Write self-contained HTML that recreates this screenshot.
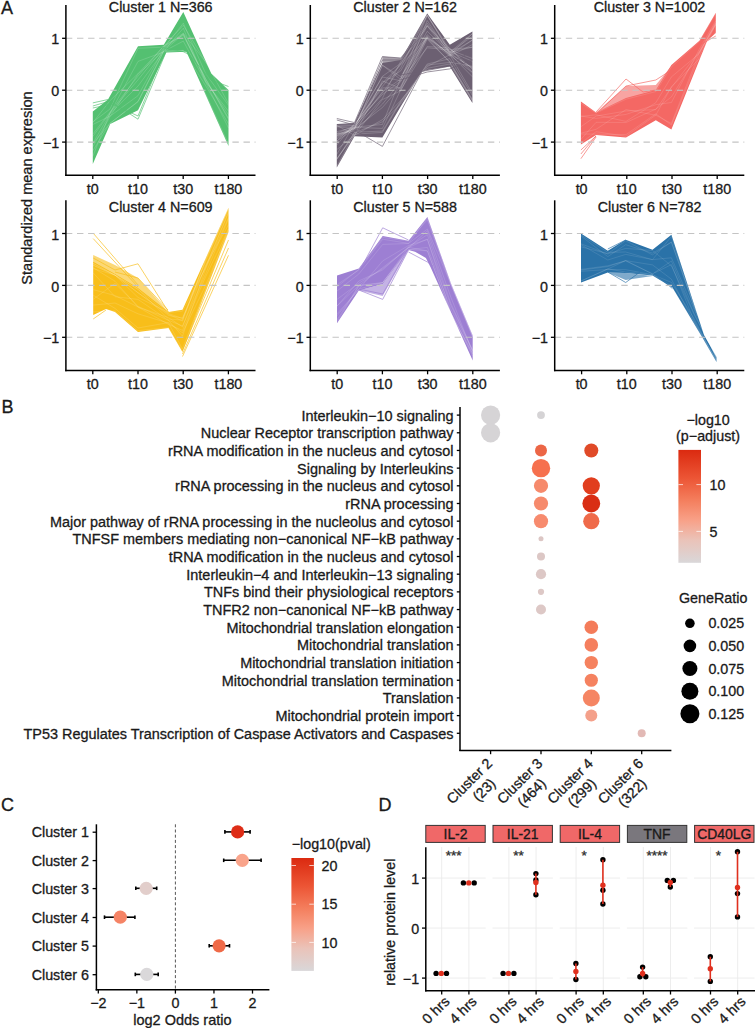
<!DOCTYPE html><html><head><meta charset="utf-8"><style>html,body{margin:0;padding:0;background:#fff;}svg{display:block;} text{font-family:"Liberation Sans", sans-serif;stroke:#1a1a1a;stroke-width:0.3px;}</style></head><body>
<svg width="755" height="1028" viewBox="0 0 755 1028">
<rect width="755" height="1028" fill="#fff"/>
<text x="1.00" y="13.70" font-size="18" text-anchor="start" fill="#1a1a1a" >A</text>
<polygon points="596.1,112.4 626.0,86.0 655.8,85.0 671.4,66.0 671.4,100.0 626.0,100.0" fill="#f46864" fill-opacity="0.6"/>
<polygon points="93.2,255.0 115.0,265.0 138.0,278.0 168.5,312.0 138.0,292.0 93.2,263.0" fill="#f8be1a" fill-opacity="0.6"/>
<polygon points="358.8,290.5 382.7,296.0 408.5,250.0 382.7,284.0" fill="#9d7fd3" fill-opacity="0.6"/>
<polygon points="607.8,272.6 625.7,280.0 652.5,276.0 625.7,273.0" fill="#2a72a8" fill-opacity="0.6"/>
<polygon points="382.4,56.6 400.7,58.0 427.2,20.0 427.2,40.0 400.7,70.0 382.4,70.0" fill="#6c6072" fill-opacity="0.6"/>
<polygon points="92.8,111.4 108.0,99.5 138.0,46.3 163.8,44.7 183.3,12.0 211.3,73.5 228.5,90.0 228.5,146.0 186.4,51.7 166.2,52.5 138.0,110.3 110.2,124.0 92.8,164.1" fill="#54c071" />
<polygon points="336.8,124.0 354.5,123.0 382.4,63.0 400.7,60.0 427.2,13.6 449.8,44.7 472.4,31.5 472.4,103.1 449.8,66.5 427.2,70.0 421.7,72.0 400.7,106.6 382.4,137.4 354.5,136.2 336.8,167.5" fill="#6c6072" />
<polygon points="580.9,101.5 596.1,112.4 626.0,98.0 655.8,90.0 671.4,65.0 699.4,40.8 715.8,12.8 715.8,33.0 707.2,40.8 671.4,129.6 655.8,120.3 626.0,137.5 596.1,134.9 580.9,144.4" fill="#f46864" />
<polygon points="93.2,261.8 115.0,274.0 138.0,288.0 168.5,312.0 182.5,309.8 228.5,207.8 228.5,232.0 182.5,352.0 168.5,328.0 138.0,332.0 115.0,312.0 106.0,309.0 93.2,315.0" fill="#f8be1a" />
<polygon points="337.0,275.5 358.8,268.6 382.7,236.0 408.5,240.8 427.4,216.9 450.8,283.0 472.7,335.6 472.7,360.5 430.6,267.2 425.9,257.9 415.0,251.7 408.5,250.0 382.7,284.0 358.8,290.5 337.0,323.3" fill="#9d7fd3" />
<polygon points="581.0,233.4 607.8,250.7 625.7,239.8 652.5,249.7 671.4,234.8 704.0,335.0 716.5,357.0 716.5,362.0 702.2,337.2 672.4,287.5 652.5,275.5 625.7,273.0 607.8,272.6 581.0,282.5" fill="#2a72a8" />
<polyline points="92.8,136.5 110.0,112.9 138.0,79.8 163.8,48.0 183.3,23.2 205.6,73.5 228.5,105.4" fill="none" stroke="#ffffff" stroke-width="0.6" stroke-linejoin="round" stroke-opacity="0.25"/>
<polyline points="92.8,134.1 110.0,112.1 138.0,76.2 163.8,45.7 183.3,35.3 205.6,78.7 228.5,119.3" fill="none" stroke="#ffffff" stroke-width="0.6" stroke-linejoin="round" stroke-opacity="0.25"/>
<polyline points="92.8,156.2 110.0,113.2 138.0,61.4 163.8,51.9 183.3,50.4 205.6,85.6 228.5,123.8" fill="none" stroke="#ffffff" stroke-width="0.6" stroke-linejoin="round" stroke-opacity="0.25"/>
<polyline points="92.8,122.7 110.0,100.7 138.0,73.6 163.8,46.4 183.3,25.2 205.6,62.0 228.5,91.7" fill="none" stroke="#ffffff" stroke-width="0.6" stroke-linejoin="round" stroke-opacity="0.25"/>
<polyline points="92.8,143.3 110.0,113.7 138.0,86.1 163.8,51.0 183.3,28.2 205.6,81.8 228.5,111.2" fill="none" stroke="#ffffff" stroke-width="0.6" stroke-linejoin="round" stroke-opacity="0.25"/>
<polyline points="92.8,121.9 110.0,109.0 138.0,48.3 163.8,47.1 183.3,33.2 205.6,62.0 228.5,103.5" fill="none" stroke="#ffffff" stroke-width="0.6" stroke-linejoin="round" stroke-opacity="0.25"/>
<polyline points="92.8,143.6 110.0,123.3 138.0,101.8 163.8,51.4 183.3,41.1 205.6,82.1 228.5,128.0" fill="none" stroke="#ffffff" stroke-width="0.6" stroke-linejoin="round" stroke-opacity="0.25"/>
<polyline points="92.8,146.8 110.0,116.6 138.0,74.1 163.8,50.8 183.3,34.2 205.6,80.8 228.5,114.7" fill="none" stroke="#ffffff" stroke-width="0.6" stroke-linejoin="round" stroke-opacity="0.25"/>
<polyline points="92.8,124.5 110.0,116.2 138.0,95.7 163.8,48.7 183.3,33.7 205.6,78.7 228.5,118.1" fill="none" stroke="#ffffff" stroke-width="0.6" stroke-linejoin="round" stroke-opacity="0.25"/>
<polyline points="92.8,150.7 110.0,123.3 138.0,101.4 163.8,50.9 183.3,50.5 205.6,93.7 228.5,144.3" fill="none" stroke="#ffffff" stroke-width="0.6" stroke-linejoin="round" stroke-opacity="0.25"/>
<polyline points="336.8,133.3 354.5,125.8 382.4,76.3 400.7,63.4 427.2,23.2 449.8,52.3 472.4,47.2" fill="none" stroke="#ffffff" stroke-width="0.6" stroke-linejoin="round" stroke-opacity="0.3"/>
<polyline points="336.8,141.2 354.5,124.2 382.4,87.9 400.7,88.0 427.2,20.5 449.8,53.8 472.4,76.8" fill="none" stroke="#ffffff" stroke-width="0.6" stroke-linejoin="round" stroke-opacity="0.3"/>
<polyline points="336.8,154.3 354.5,123.8 382.4,94.6 400.7,81.0 427.2,34.7 449.8,55.4 472.4,40.1" fill="none" stroke="#ffffff" stroke-width="0.6" stroke-linejoin="round" stroke-opacity="0.3"/>
<polyline points="336.8,136.4 354.5,128.9 382.4,82.9 400.7,64.9 427.2,38.0 449.8,56.2 472.4,44.6" fill="none" stroke="#ffffff" stroke-width="0.6" stroke-linejoin="round" stroke-opacity="0.3"/>
<polyline points="336.8,137.7 354.5,127.4 382.4,128.4 400.7,90.0 427.2,46.5 449.8,48.1 472.4,72.2" fill="none" stroke="#ffffff" stroke-width="0.6" stroke-linejoin="round" stroke-opacity="0.3"/>
<polyline points="336.8,133.9 354.5,130.9 382.4,104.2 400.7,81.5 427.2,37.5 449.8,54.0 472.4,67.5" fill="none" stroke="#ffffff" stroke-width="0.6" stroke-linejoin="round" stroke-opacity="0.3"/>
<polyline points="336.8,139.0 354.5,127.5 382.4,91.9 400.7,79.0 427.2,31.3 449.8,52.8 472.4,68.4" fill="none" stroke="#ffffff" stroke-width="0.6" stroke-linejoin="round" stroke-opacity="0.3"/>
<polyline points="336.8,125.3 354.5,124.9 382.4,86.4 400.7,64.1 427.2,25.9 449.8,55.1 472.4,33.6" fill="none" stroke="#ffffff" stroke-width="0.6" stroke-linejoin="round" stroke-opacity="0.3"/>
<polyline points="336.8,141.0 354.5,129.3 382.4,107.5 400.7,86.3 427.2,38.1 449.8,62.2 472.4,66.3" fill="none" stroke="#ffffff" stroke-width="0.6" stroke-linejoin="round" stroke-opacity="0.3"/>
<polyline points="336.8,166.2 354.5,134.2 382.4,132.4 400.7,102.4 427.2,66.6 449.8,54.7 472.4,93.3" fill="none" stroke="#ffffff" stroke-width="0.6" stroke-linejoin="round" stroke-opacity="0.3"/>
<polyline points="336.8,159.5 354.5,132.7 382.4,121.8 400.7,104.0 427.2,64.0 449.8,58.7 472.4,95.4" fill="none" stroke="#ffffff" stroke-width="0.6" stroke-linejoin="round" stroke-opacity="0.3"/>
<polyline points="336.8,126.8 354.5,128.5 382.4,65.2 400.7,79.5 427.2,15.3 449.8,52.2 472.4,33.6" fill="none" stroke="#ffffff" stroke-width="0.6" stroke-linejoin="round" stroke-opacity="0.3"/>
<polyline points="336.8,126.6 354.5,125.7 382.4,83.0 400.7,70.9 427.2,24.9 449.8,52.6 472.4,36.3" fill="none" stroke="#ffffff" stroke-width="0.6" stroke-linejoin="round" stroke-opacity="0.3"/>
<polyline points="336.8,125.3 354.5,135.4 382.4,80.9 400.7,88.5 427.2,36.1 449.8,55.0 472.4,72.6" fill="none" stroke="#ffffff" stroke-width="0.6" stroke-linejoin="round" stroke-opacity="0.3"/>
<polyline points="336.8,135.7 354.5,128.8 382.4,98.4 400.7,61.4 427.2,15.3 449.8,49.7 472.4,47.2" fill="none" stroke="#ffffff" stroke-width="0.6" stroke-linejoin="round" stroke-opacity="0.3"/>
<polyline points="336.8,149.6 354.5,135.2 382.4,99.6 400.7,90.8 427.2,39.3 449.8,62.1 472.4,99.3" fill="none" stroke="#ffffff" stroke-width="0.6" stroke-linejoin="round" stroke-opacity="0.3"/>
<polyline points="336.8,145.0 354.5,123.4 382.4,77.0 400.7,80.7 427.2,47.8 449.8,49.9 472.4,58.5" fill="none" stroke="#ffffff" stroke-width="0.6" stroke-linejoin="round" stroke-opacity="0.3"/>
<polyline points="336.8,134.2 354.5,128.6 382.4,65.2 400.7,76.6 427.2,37.2 449.8,53.7 472.4,40.0" fill="none" stroke="#ffffff" stroke-width="0.6" stroke-linejoin="round" stroke-opacity="0.3"/>
<polyline points="336.8,135.3 354.5,127.2 382.4,124.5 400.7,78.3 427.2,26.0 449.8,48.5 472.4,69.2" fill="none" stroke="#ffffff" stroke-width="0.6" stroke-linejoin="round" stroke-opacity="0.3"/>
<polyline points="336.8,158.5 354.5,135.3 382.4,119.7 400.7,100.5 427.2,68.3 449.8,64.0 472.4,101.0" fill="none" stroke="#ffffff" stroke-width="0.6" stroke-linejoin="round" stroke-opacity="0.3"/>
<polyline points="336.8,131.7 354.5,127.0 382.4,92.9 400.7,67.9 427.2,15.3 449.8,51.7 472.4,61.2" fill="none" stroke="#ffffff" stroke-width="0.6" stroke-linejoin="round" stroke-opacity="0.3"/>
<polyline points="336.8,159.3 354.5,132.2 382.4,131.1 400.7,101.2 427.2,65.1 449.8,62.4 472.4,100.2" fill="none" stroke="#ffffff" stroke-width="0.6" stroke-linejoin="round" stroke-opacity="0.3"/>
<polyline points="580.9,103.1 596.1,113.1 626.0,99.2 655.8,91.6 671.4,66.9 699.4,41.4 715.8,13.4" fill="none" stroke="#ffffff" stroke-width="0.6" stroke-linejoin="round" stroke-opacity="0.2"/>
<polyline points="580.9,134.0 596.1,134.1 626.0,134.6 655.8,113.8 671.4,125.0 699.4,56.4 715.8,24.4" fill="none" stroke="#ffffff" stroke-width="0.6" stroke-linejoin="round" stroke-opacity="0.2"/>
<polyline points="580.9,126.7 596.1,116.1 626.0,111.0 655.8,109.6 671.4,87.4 699.4,51.4 715.8,22.7" fill="none" stroke="#ffffff" stroke-width="0.6" stroke-linejoin="round" stroke-opacity="0.2"/>
<polyline points="580.9,116.4 596.1,114.8 626.0,121.4 655.8,102.7 671.4,76.9 699.4,53.5 715.8,22.6" fill="none" stroke="#ffffff" stroke-width="0.6" stroke-linejoin="round" stroke-opacity="0.2"/>
<polyline points="580.9,139.4 596.1,122.3 626.0,122.5 655.8,109.1 671.4,96.9 699.4,52.0 715.8,24.2" fill="none" stroke="#ffffff" stroke-width="0.6" stroke-linejoin="round" stroke-opacity="0.2"/>
<polyline points="580.9,133.2 596.1,129.3 626.0,109.6 655.8,115.2 671.4,123.5 699.4,52.6 715.8,24.6" fill="none" stroke="#ffffff" stroke-width="0.6" stroke-linejoin="round" stroke-opacity="0.2"/>
<polyline points="580.9,143.1 596.1,131.7 626.0,136.3 655.8,115.1 671.4,86.9 699.4,58.6 715.8,31.7" fill="none" stroke="#ffffff" stroke-width="0.6" stroke-linejoin="round" stroke-opacity="0.2"/>
<polyline points="580.9,116.0 596.1,118.4 626.0,114.4 655.8,104.7 671.4,102.5 699.4,49.0 715.8,20.8" fill="none" stroke="#ffffff" stroke-width="0.6" stroke-linejoin="round" stroke-opacity="0.2"/>
<polyline points="93.2,289.6 115.0,295.5 138.0,307.0 168.5,324.4 182.5,330.4 205.5,277.0 228.5,228.9" fill="none" stroke="#ffffff" stroke-width="0.6" stroke-linejoin="round" stroke-opacity="0.22"/>
<polyline points="93.2,311.9 115.0,310.9 138.0,330.7 168.5,327.5 182.5,350.7 205.5,290.7 228.5,231.3" fill="none" stroke="#ffffff" stroke-width="0.6" stroke-linejoin="round" stroke-opacity="0.22"/>
<polyline points="93.2,299.3 115.0,283.4 138.0,306.3 168.5,320.4 182.5,336.2 205.5,269.0 228.5,217.4" fill="none" stroke="#ffffff" stroke-width="0.6" stroke-linejoin="round" stroke-opacity="0.22"/>
<polyline points="93.2,263.4 115.0,275.1 138.0,289.3 168.5,319.0 182.5,320.1 205.5,259.8 228.5,208.5" fill="none" stroke="#ffffff" stroke-width="0.6" stroke-linejoin="round" stroke-opacity="0.22"/>
<polyline points="93.2,268.5 115.0,275.2 138.0,297.4 168.5,312.5 182.5,311.1 205.5,268.0 228.5,212.9" fill="none" stroke="#ffffff" stroke-width="0.6" stroke-linejoin="round" stroke-opacity="0.22"/>
<polyline points="93.2,265.3 115.0,275.1 138.0,292.7 168.5,315.4 182.5,318.1 205.5,266.9 228.5,211.8" fill="none" stroke="#ffffff" stroke-width="0.6" stroke-linejoin="round" stroke-opacity="0.22"/>
<polyline points="93.2,272.9 115.0,296.7 138.0,299.4 168.5,320.3 182.5,326.0 205.5,274.1 228.5,218.6" fill="none" stroke="#ffffff" stroke-width="0.6" stroke-linejoin="round" stroke-opacity="0.22"/>
<polyline points="93.2,263.4 115.0,275.1 138.0,289.3 168.5,313.5 182.5,318.5 205.5,261.9 228.5,208.5" fill="none" stroke="#ffffff" stroke-width="0.6" stroke-linejoin="round" stroke-opacity="0.22"/>
<polyline points="93.2,295.2 115.0,308.4 138.0,328.0 168.5,322.6 182.5,332.8 205.5,285.6 228.5,231.3" fill="none" stroke="#ffffff" stroke-width="0.6" stroke-linejoin="round" stroke-opacity="0.22"/>
<polyline points="93.2,305.1 115.0,303.0 138.0,313.8 168.5,323.1 182.5,348.9 205.5,289.4 228.5,228.7" fill="none" stroke="#ffffff" stroke-width="0.6" stroke-linejoin="round" stroke-opacity="0.22"/>
<polyline points="93.2,265.1 115.0,275.1 138.0,292.8 168.5,314.2 182.5,321.1 205.5,259.8 228.5,208.5" fill="none" stroke="#ffffff" stroke-width="0.6" stroke-linejoin="round" stroke-opacity="0.22"/>
<polyline points="93.2,267.8 115.0,281.2 138.0,307.1 168.5,317.6 182.5,326.9 205.5,265.6 228.5,224.8" fill="none" stroke="#ffffff" stroke-width="0.6" stroke-linejoin="round" stroke-opacity="0.22"/>
<polyline points="337.0,315.8 358.8,289.0 382.7,282.6 408.5,249.4 427.4,250.9 450.8,313.0 472.7,356.1" fill="none" stroke="#ffffff" stroke-width="0.6" stroke-linejoin="round" stroke-opacity="0.22"/>
<polyline points="337.0,306.1 358.8,281.0 382.7,269.9 408.5,246.7 427.4,234.7 450.8,303.3 472.7,350.5" fill="none" stroke="#ffffff" stroke-width="0.6" stroke-linejoin="round" stroke-opacity="0.22"/>
<polyline points="337.0,284.7 358.8,270.0 382.7,239.2 408.5,243.4 427.4,218.0 450.8,283.9 472.7,336.3" fill="none" stroke="#ffffff" stroke-width="0.6" stroke-linejoin="round" stroke-opacity="0.22"/>
<polyline points="337.0,306.1 358.8,285.2 382.7,282.6 408.5,249.7 427.4,247.4 450.8,308.9 472.7,351.1" fill="none" stroke="#ffffff" stroke-width="0.6" stroke-linejoin="round" stroke-opacity="0.22"/>
<polyline points="337.0,286.9 358.8,269.3 382.7,237.4 408.5,241.1 427.4,219.8 450.8,283.9 472.7,336.3" fill="none" stroke="#ffffff" stroke-width="0.6" stroke-linejoin="round" stroke-opacity="0.22"/>
<polyline points="337.0,313.9 358.8,289.4 382.7,260.9 408.5,245.5 427.4,239.5 450.8,305.3 472.7,350.1" fill="none" stroke="#ffffff" stroke-width="0.6" stroke-linejoin="round" stroke-opacity="0.22"/>
<polyline points="337.0,291.0 358.8,274.0 382.7,244.4 408.5,243.5 427.4,229.1 450.8,284.0 472.7,337.0" fill="none" stroke="#ffffff" stroke-width="0.6" stroke-linejoin="round" stroke-opacity="0.22"/>
<polyline points="337.0,299.4 358.8,283.2 382.7,268.7 408.5,247.9 427.4,230.8 450.8,297.1 472.7,352.4" fill="none" stroke="#ffffff" stroke-width="0.6" stroke-linejoin="round" stroke-opacity="0.22"/>
<polyline points="337.0,319.9 358.8,285.6 382.7,267.6 408.5,247.5 427.4,239.0 450.8,312.3 472.7,354.1" fill="none" stroke="#ffffff" stroke-width="0.6" stroke-linejoin="round" stroke-opacity="0.22"/>
<polyline points="337.0,321.9 358.8,286.1 382.7,282.6 408.5,247.3 427.4,250.9 450.8,313.0 472.7,353.7" fill="none" stroke="#ffffff" stroke-width="0.6" stroke-linejoin="round" stroke-opacity="0.22"/>
<polyline points="581.0,269.4 607.8,265.8 625.7,260.9 652.5,273.9 671.4,264.6 694.0,320.5 716.5,360.5" fill="none" stroke="#ffffff" stroke-width="0.6" stroke-linejoin="round" stroke-opacity="0.18"/>
<polyline points="581.0,246.8 607.8,253.7 625.7,240.8 652.5,254.9 671.4,241.9 694.0,306.2 716.5,358.2" fill="none" stroke="#ffffff" stroke-width="0.6" stroke-linejoin="round" stroke-opacity="0.18"/>
<polyline points="581.0,270.1 607.8,266.6 625.7,260.5 652.5,273.9 671.4,261.0 694.0,313.2 716.5,357.7" fill="none" stroke="#ffffff" stroke-width="0.6" stroke-linejoin="round" stroke-opacity="0.18"/>
<polyline points="581.0,281.0 607.8,268.9 625.7,272.0 652.5,274.7 671.4,285.9 694.0,322.5 716.5,361.9" fill="none" stroke="#ffffff" stroke-width="0.6" stroke-linejoin="round" stroke-opacity="0.18"/>
<polyline points="581.0,234.9 607.8,252.3 625.7,252.0 652.5,259.7 671.4,236.4 694.0,307.2 716.5,357.5" fill="none" stroke="#ffffff" stroke-width="0.6" stroke-linejoin="round" stroke-opacity="0.18"/>
<polyline points="581.0,271.3 607.8,269.5 625.7,269.7 652.5,274.7 671.4,282.4 694.0,318.5 716.5,361.7" fill="none" stroke="#ffffff" stroke-width="0.6" stroke-linejoin="round" stroke-opacity="0.18"/>
<polyline points="581.0,236.0 607.8,256.6 625.7,244.7 652.5,253.1 671.4,242.3 694.0,305.5 716.5,359.2" fill="none" stroke="#ffffff" stroke-width="0.6" stroke-linejoin="round" stroke-opacity="0.18"/>
<polyline points="581.0,281.0 607.8,269.0 625.7,260.6 652.5,264.9 671.4,279.2 694.0,322.2 716.5,360.6" fill="none" stroke="#ffffff" stroke-width="0.6" stroke-linejoin="round" stroke-opacity="0.18"/>
<polyline points="581.0,244.7 607.8,260.0 625.7,254.4 652.5,259.6 671.4,257.8 694.0,309.2 716.5,359.4" fill="none" stroke="#ffffff" stroke-width="0.6" stroke-linejoin="round" stroke-opacity="0.18"/>
<polyline points="581.0,243.8 607.8,254.0 625.7,248.4 652.5,250.5 671.4,265.8 694.0,314.2 716.5,357.2" fill="none" stroke="#ffffff" stroke-width="0.6" stroke-linejoin="round" stroke-opacity="0.18"/>
<polyline points="92.8,102.9 108.0,99.5" fill="none" stroke="#54c071" stroke-width="0.9" stroke-linejoin="round" stroke-opacity="0.75"/>
<polyline points="92.8,106.0 110.0,101.0 138.0,119.2 166.0,52.0" fill="none" stroke="#54c071" stroke-width="0.9" stroke-linejoin="round" stroke-opacity="0.75"/>
<polyline points="92.8,108.0 112.0,104.0 138.0,116.0 165.0,50.0" fill="none" stroke="#54c071" stroke-width="0.9" stroke-linejoin="round" stroke-opacity="0.75"/>
<polyline points="183.3,48.0 211.0,80.0 228.5,86.5" fill="none" stroke="#54c071" stroke-width="0.9" stroke-linejoin="round" stroke-opacity="0.75"/>
<polyline points="160.0,47.0 183.3,51.7 190.0,55.0" fill="none" stroke="#54c071" stroke-width="0.9" stroke-linejoin="round" stroke-opacity="0.75"/>
<polyline points="336.8,118.5 354.5,122.6 382.4,56.6 400.7,58.0 427.2,30.0" fill="none" stroke="#6c6072" stroke-width="0.9" stroke-linejoin="round" stroke-opacity="0.75"/>
<polyline points="336.8,120.0 354.5,125.0 382.4,60.0 401.0,60.0" fill="none" stroke="#6c6072" stroke-width="0.9" stroke-linejoin="round" stroke-opacity="0.75"/>
<polyline points="354.5,130.0 382.4,146.4 421.7,72.0" fill="none" stroke="#6c6072" stroke-width="0.9" stroke-linejoin="round" stroke-opacity="0.75"/>
<polyline points="400.0,80.0 427.2,72.0 449.8,68.9 472.4,60.0" fill="none" stroke="#6c6072" stroke-width="0.9" stroke-linejoin="round" stroke-opacity="0.75"/>
<polyline points="400.0,75.0 427.0,70.5 450.0,66.0 472.0,50.0" fill="none" stroke="#6c6072" stroke-width="0.9" stroke-linejoin="round" stroke-opacity="0.75"/>
<polyline points="580.9,150.0 596.1,136.0" fill="none" stroke="#f46864" stroke-width="0.9" stroke-linejoin="round" stroke-opacity="0.75"/>
<polyline points="580.9,158.7 596.1,137.0" fill="none" stroke="#f46864" stroke-width="0.9" stroke-linejoin="round" stroke-opacity="0.75"/>
<polyline points="580.9,154.0 596.0,136.0" fill="none" stroke="#f46864" stroke-width="0.9" stroke-linejoin="round" stroke-opacity="0.75"/>
<polyline points="596.1,112.0 626.0,79.0 643.0,92.0 655.8,90.0" fill="none" stroke="#f46864" stroke-width="0.9" stroke-linejoin="round" stroke-opacity="0.75"/>
<polyline points="596.1,114.0 626.0,86.0 655.8,80.0 671.4,70.0" fill="none" stroke="#f46864" stroke-width="0.9" stroke-linejoin="round" stroke-opacity="0.75"/>
<polyline points="715.8,36.0 700.0,45.0" fill="none" stroke="#f46864" stroke-width="0.9" stroke-linejoin="round" stroke-opacity="0.75"/>
<polyline points="93.2,233.2 138.0,285.0" fill="none" stroke="#f8be1a" stroke-width="0.9" stroke-linejoin="round" stroke-opacity="0.75"/>
<polyline points="93.2,238.6 138.0,287.0" fill="none" stroke="#f8be1a" stroke-width="0.9" stroke-linejoin="round" stroke-opacity="0.75"/>
<polyline points="93.2,258.0 115.0,270.0 138.0,263.8 168.5,312.0" fill="none" stroke="#f8be1a" stroke-width="0.9" stroke-linejoin="round" stroke-opacity="0.75"/>
<polyline points="115.0,272.0 138.0,278.0 168.0,310.0" fill="none" stroke="#f8be1a" stroke-width="0.9" stroke-linejoin="round" stroke-opacity="0.75"/>
<polyline points="182.5,356.5 228.5,255.3" fill="none" stroke="#f8be1a" stroke-width="0.9" stroke-linejoin="round" stroke-opacity="0.75"/>
<polyline points="182.5,354.0 228.5,248.0" fill="none" stroke="#f8be1a" stroke-width="0.9" stroke-linejoin="round" stroke-opacity="0.75"/>
<polyline points="93.2,319.0 106.0,310.0" fill="none" stroke="#f8be1a" stroke-width="0.9" stroke-linejoin="round" stroke-opacity="0.75"/>
<polyline points="182.5,350.0 228.5,240.0" fill="none" stroke="#f8be1a" stroke-width="0.9" stroke-linejoin="round" stroke-opacity="0.75"/>
<polyline points="358.8,290.0 382.7,299.4 408.5,250.0" fill="none" stroke="#9d7fd3" stroke-width="0.9" stroke-linejoin="round" stroke-opacity="0.75"/>
<polyline points="358.8,289.0 382.7,294.0 408.0,249.0" fill="none" stroke="#9d7fd3" stroke-width="0.9" stroke-linejoin="round" stroke-opacity="0.75"/>
<polyline points="358.8,272.0 382.7,227.8 408.5,240.0" fill="none" stroke="#9d7fd3" stroke-width="0.9" stroke-linejoin="round" stroke-opacity="0.75"/>
<polyline points="408.5,252.0 427.4,262.0 433.0,266.0" fill="none" stroke="#9d7fd3" stroke-width="0.9" stroke-linejoin="round" stroke-opacity="0.75"/>
<polyline points="607.8,272.0 625.7,282.5 640.0,272.0" fill="none" stroke="#2a72a8" stroke-width="0.9" stroke-linejoin="round" stroke-opacity="0.75"/>
<polyline points="652.5,272.0 672.4,288.5" fill="none" stroke="#2a72a8" stroke-width="0.9" stroke-linejoin="round" stroke-opacity="0.75"/>
<polyline points="625.7,240.0 607.8,249.0" fill="none" stroke="#2a72a8" stroke-width="0.9" stroke-linejoin="round" stroke-opacity="0.75"/>
<line x1="65.90" y1="38.30" x2="255.50" y2="38.30" stroke="#c4c4c4" stroke-width="1.1" stroke-dasharray="6.4 4.7"/>
<line x1="65.90" y1="90.20" x2="255.50" y2="90.20" stroke="#c4c4c4" stroke-width="1.1" stroke-dasharray="6.4 4.7"/>
<line x1="65.90" y1="142.10" x2="255.50" y2="142.10" stroke="#c4c4c4" stroke-width="1.1" stroke-dasharray="6.4 4.7"/>
<line x1="65.90" y1="233.50" x2="255.50" y2="233.50" stroke="#c4c4c4" stroke-width="1.1" stroke-dasharray="6.4 4.7"/>
<line x1="65.90" y1="285.40" x2="255.50" y2="285.40" stroke="#c4c4c4" stroke-width="1.1" stroke-dasharray="6.4 4.7"/>
<line x1="65.90" y1="337.30" x2="255.50" y2="337.30" stroke="#c4c4c4" stroke-width="1.1" stroke-dasharray="6.4 4.7"/>
<line x1="310.30" y1="38.30" x2="499.90" y2="38.30" stroke="#c4c4c4" stroke-width="1.1" stroke-dasharray="6.4 4.7"/>
<line x1="310.30" y1="90.20" x2="499.90" y2="90.20" stroke="#c4c4c4" stroke-width="1.1" stroke-dasharray="6.4 4.7"/>
<line x1="310.30" y1="142.10" x2="499.90" y2="142.10" stroke="#c4c4c4" stroke-width="1.1" stroke-dasharray="6.4 4.7"/>
<line x1="310.30" y1="233.50" x2="499.90" y2="233.50" stroke="#c4c4c4" stroke-width="1.1" stroke-dasharray="6.4 4.7"/>
<line x1="310.30" y1="285.40" x2="499.90" y2="285.40" stroke="#c4c4c4" stroke-width="1.1" stroke-dasharray="6.4 4.7"/>
<line x1="310.30" y1="337.30" x2="499.90" y2="337.30" stroke="#c4c4c4" stroke-width="1.1" stroke-dasharray="6.4 4.7"/>
<line x1="554.70" y1="38.30" x2="744.30" y2="38.30" stroke="#c4c4c4" stroke-width="1.1" stroke-dasharray="6.4 4.7"/>
<line x1="554.70" y1="90.20" x2="744.30" y2="90.20" stroke="#c4c4c4" stroke-width="1.1" stroke-dasharray="6.4 4.7"/>
<line x1="554.70" y1="142.10" x2="744.30" y2="142.10" stroke="#c4c4c4" stroke-width="1.1" stroke-dasharray="6.4 4.7"/>
<line x1="554.70" y1="233.50" x2="744.30" y2="233.50" stroke="#c4c4c4" stroke-width="1.1" stroke-dasharray="6.4 4.7"/>
<line x1="554.70" y1="285.40" x2="744.30" y2="285.40" stroke="#c4c4c4" stroke-width="1.1" stroke-dasharray="6.4 4.7"/>
<line x1="554.70" y1="337.30" x2="744.30" y2="337.30" stroke="#c4c4c4" stroke-width="1.1" stroke-dasharray="6.4 4.7"/>
<line x1="65.90" y1="5.00" x2="65.90" y2="175.90" stroke="#000" stroke-width="1.5" />
<line x1="65.20" y1="175.20" x2="255.50" y2="175.20" stroke="#000" stroke-width="1.5" />
<line x1="62.10" y1="38.30" x2="65.90" y2="38.30" stroke="#000" stroke-width="1.3" />
<text x="59.20" y="44.42" font-size="14.3" text-anchor="end" fill="#1a1a1a" >1</text>
<line x1="62.10" y1="90.20" x2="65.90" y2="90.20" stroke="#000" stroke-width="1.3" />
<text x="59.20" y="96.32" font-size="14.3" text-anchor="end" fill="#1a1a1a" >0</text>
<line x1="62.10" y1="142.10" x2="65.90" y2="142.10" stroke="#000" stroke-width="1.3" />
<text x="59.20" y="148.22" font-size="14.3" text-anchor="end" fill="#1a1a1a" >−1</text>
<line x1="92.80" y1="175.20" x2="92.80" y2="179.00" stroke="#000" stroke-width="1.3" />
<text x="92.80" y="194.10" font-size="14.3" text-anchor="middle" fill="#1a1a1a" >t0</text>
<line x1="138.00" y1="175.20" x2="138.00" y2="179.00" stroke="#000" stroke-width="1.3" />
<text x="138.00" y="194.10" font-size="14.3" text-anchor="middle" fill="#1a1a1a" >t10</text>
<line x1="183.20" y1="175.20" x2="183.20" y2="179.00" stroke="#000" stroke-width="1.3" />
<text x="183.20" y="194.10" font-size="14.3" text-anchor="middle" fill="#1a1a1a" >t30</text>
<line x1="228.40" y1="175.20" x2="228.40" y2="179.00" stroke="#000" stroke-width="1.3" />
<text x="228.40" y="194.10" font-size="14.3" text-anchor="middle" fill="#1a1a1a" >t180</text>
<text x="160.70" y="11.50" font-size="14.3" text-anchor="middle" fill="#1a1a1a" >Cluster 1 N=366</text>
<line x1="310.30" y1="5.00" x2="310.30" y2="175.90" stroke="#000" stroke-width="1.5" />
<line x1="309.60" y1="175.20" x2="499.90" y2="175.20" stroke="#000" stroke-width="1.5" />
<line x1="306.50" y1="38.30" x2="310.30" y2="38.30" stroke="#000" stroke-width="1.3" />
<text x="303.60" y="44.42" font-size="14.3" text-anchor="end" fill="#1a1a1a" >1</text>
<line x1="306.50" y1="90.20" x2="310.30" y2="90.20" stroke="#000" stroke-width="1.3" />
<text x="303.60" y="96.32" font-size="14.3" text-anchor="end" fill="#1a1a1a" >0</text>
<line x1="306.50" y1="142.10" x2="310.30" y2="142.10" stroke="#000" stroke-width="1.3" />
<text x="303.60" y="148.22" font-size="14.3" text-anchor="end" fill="#1a1a1a" >−1</text>
<line x1="337.20" y1="175.20" x2="337.20" y2="179.00" stroke="#000" stroke-width="1.3" />
<text x="337.20" y="194.10" font-size="14.3" text-anchor="middle" fill="#1a1a1a" >t0</text>
<line x1="382.40" y1="175.20" x2="382.40" y2="179.00" stroke="#000" stroke-width="1.3" />
<text x="382.40" y="194.10" font-size="14.3" text-anchor="middle" fill="#1a1a1a" >t10</text>
<line x1="427.60" y1="175.20" x2="427.60" y2="179.00" stroke="#000" stroke-width="1.3" />
<text x="427.60" y="194.10" font-size="14.3" text-anchor="middle" fill="#1a1a1a" >t30</text>
<line x1="472.80" y1="175.20" x2="472.80" y2="179.00" stroke="#000" stroke-width="1.3" />
<text x="472.80" y="194.10" font-size="14.3" text-anchor="middle" fill="#1a1a1a" >t180</text>
<text x="405.10" y="11.50" font-size="14.3" text-anchor="middle" fill="#1a1a1a" >Cluster 2 N=162</text>
<line x1="554.70" y1="5.00" x2="554.70" y2="175.90" stroke="#000" stroke-width="1.5" />
<line x1="554.00" y1="175.20" x2="744.30" y2="175.20" stroke="#000" stroke-width="1.5" />
<line x1="550.90" y1="38.30" x2="554.70" y2="38.30" stroke="#000" stroke-width="1.3" />
<text x="548.00" y="44.42" font-size="14.3" text-anchor="end" fill="#1a1a1a" >1</text>
<line x1="550.90" y1="90.20" x2="554.70" y2="90.20" stroke="#000" stroke-width="1.3" />
<text x="548.00" y="96.32" font-size="14.3" text-anchor="end" fill="#1a1a1a" >0</text>
<line x1="550.90" y1="142.10" x2="554.70" y2="142.10" stroke="#000" stroke-width="1.3" />
<text x="548.00" y="148.22" font-size="14.3" text-anchor="end" fill="#1a1a1a" >−1</text>
<line x1="581.60" y1="175.20" x2="581.60" y2="179.00" stroke="#000" stroke-width="1.3" />
<text x="581.60" y="194.10" font-size="14.3" text-anchor="middle" fill="#1a1a1a" >t0</text>
<line x1="626.80" y1="175.20" x2="626.80" y2="179.00" stroke="#000" stroke-width="1.3" />
<text x="626.80" y="194.10" font-size="14.3" text-anchor="middle" fill="#1a1a1a" >t10</text>
<line x1="672.00" y1="175.20" x2="672.00" y2="179.00" stroke="#000" stroke-width="1.3" />
<text x="672.00" y="194.10" font-size="14.3" text-anchor="middle" fill="#1a1a1a" >t30</text>
<line x1="717.20" y1="175.20" x2="717.20" y2="179.00" stroke="#000" stroke-width="1.3" />
<text x="717.20" y="194.10" font-size="14.3" text-anchor="middle" fill="#1a1a1a" >t180</text>
<text x="649.50" y="11.50" font-size="14.3" text-anchor="middle" fill="#1a1a1a" >Cluster 3 N=1002</text>
<line x1="65.90" y1="200.30" x2="65.90" y2="371.20" stroke="#000" stroke-width="1.5" />
<line x1="65.20" y1="370.50" x2="255.50" y2="370.50" stroke="#000" stroke-width="1.5" />
<line x1="62.10" y1="233.50" x2="65.90" y2="233.50" stroke="#000" stroke-width="1.3" />
<text x="59.20" y="239.62" font-size="14.3" text-anchor="end" fill="#1a1a1a" >1</text>
<line x1="62.10" y1="285.40" x2="65.90" y2="285.40" stroke="#000" stroke-width="1.3" />
<text x="59.20" y="291.52" font-size="14.3" text-anchor="end" fill="#1a1a1a" >0</text>
<line x1="62.10" y1="337.30" x2="65.90" y2="337.30" stroke="#000" stroke-width="1.3" />
<text x="59.20" y="343.42" font-size="14.3" text-anchor="end" fill="#1a1a1a" >−1</text>
<line x1="92.80" y1="370.50" x2="92.80" y2="374.30" stroke="#000" stroke-width="1.3" />
<text x="92.80" y="389.40" font-size="14.3" text-anchor="middle" fill="#1a1a1a" >t0</text>
<line x1="138.00" y1="370.50" x2="138.00" y2="374.30" stroke="#000" stroke-width="1.3" />
<text x="138.00" y="389.40" font-size="14.3" text-anchor="middle" fill="#1a1a1a" >t10</text>
<line x1="183.20" y1="370.50" x2="183.20" y2="374.30" stroke="#000" stroke-width="1.3" />
<text x="183.20" y="389.40" font-size="14.3" text-anchor="middle" fill="#1a1a1a" >t30</text>
<line x1="228.40" y1="370.50" x2="228.40" y2="374.30" stroke="#000" stroke-width="1.3" />
<text x="228.40" y="389.40" font-size="14.3" text-anchor="middle" fill="#1a1a1a" >t180</text>
<text x="160.70" y="211.90" font-size="14.3" text-anchor="middle" fill="#1a1a1a" >Cluster 4 N=609</text>
<line x1="310.30" y1="200.30" x2="310.30" y2="371.20" stroke="#000" stroke-width="1.5" />
<line x1="309.60" y1="370.50" x2="499.90" y2="370.50" stroke="#000" stroke-width="1.5" />
<line x1="306.50" y1="233.50" x2="310.30" y2="233.50" stroke="#000" stroke-width="1.3" />
<text x="303.60" y="239.62" font-size="14.3" text-anchor="end" fill="#1a1a1a" >1</text>
<line x1="306.50" y1="285.40" x2="310.30" y2="285.40" stroke="#000" stroke-width="1.3" />
<text x="303.60" y="291.52" font-size="14.3" text-anchor="end" fill="#1a1a1a" >0</text>
<line x1="306.50" y1="337.30" x2="310.30" y2="337.30" stroke="#000" stroke-width="1.3" />
<text x="303.60" y="343.42" font-size="14.3" text-anchor="end" fill="#1a1a1a" >−1</text>
<line x1="337.20" y1="370.50" x2="337.20" y2="374.30" stroke="#000" stroke-width="1.3" />
<text x="337.20" y="389.40" font-size="14.3" text-anchor="middle" fill="#1a1a1a" >t0</text>
<line x1="382.40" y1="370.50" x2="382.40" y2="374.30" stroke="#000" stroke-width="1.3" />
<text x="382.40" y="389.40" font-size="14.3" text-anchor="middle" fill="#1a1a1a" >t10</text>
<line x1="427.60" y1="370.50" x2="427.60" y2="374.30" stroke="#000" stroke-width="1.3" />
<text x="427.60" y="389.40" font-size="14.3" text-anchor="middle" fill="#1a1a1a" >t30</text>
<line x1="472.80" y1="370.50" x2="472.80" y2="374.30" stroke="#000" stroke-width="1.3" />
<text x="472.80" y="389.40" font-size="14.3" text-anchor="middle" fill="#1a1a1a" >t180</text>
<text x="405.10" y="211.90" font-size="14.3" text-anchor="middle" fill="#1a1a1a" >Cluster 5 N=588</text>
<line x1="554.70" y1="200.30" x2="554.70" y2="371.20" stroke="#000" stroke-width="1.5" />
<line x1="554.00" y1="370.50" x2="744.30" y2="370.50" stroke="#000" stroke-width="1.5" />
<line x1="550.90" y1="233.50" x2="554.70" y2="233.50" stroke="#000" stroke-width="1.3" />
<text x="548.00" y="239.62" font-size="14.3" text-anchor="end" fill="#1a1a1a" >1</text>
<line x1="550.90" y1="285.40" x2="554.70" y2="285.40" stroke="#000" stroke-width="1.3" />
<text x="548.00" y="291.52" font-size="14.3" text-anchor="end" fill="#1a1a1a" >0</text>
<line x1="550.90" y1="337.30" x2="554.70" y2="337.30" stroke="#000" stroke-width="1.3" />
<text x="548.00" y="343.42" font-size="14.3" text-anchor="end" fill="#1a1a1a" >−1</text>
<line x1="581.60" y1="370.50" x2="581.60" y2="374.30" stroke="#000" stroke-width="1.3" />
<text x="581.60" y="389.40" font-size="14.3" text-anchor="middle" fill="#1a1a1a" >t0</text>
<line x1="626.80" y1="370.50" x2="626.80" y2="374.30" stroke="#000" stroke-width="1.3" />
<text x="626.80" y="389.40" font-size="14.3" text-anchor="middle" fill="#1a1a1a" >t10</text>
<line x1="672.00" y1="370.50" x2="672.00" y2="374.30" stroke="#000" stroke-width="1.3" />
<text x="672.00" y="389.40" font-size="14.3" text-anchor="middle" fill="#1a1a1a" >t30</text>
<line x1="717.20" y1="370.50" x2="717.20" y2="374.30" stroke="#000" stroke-width="1.3" />
<text x="717.20" y="389.40" font-size="14.3" text-anchor="middle" fill="#1a1a1a" >t180</text>
<text x="649.50" y="211.90" font-size="14.3" text-anchor="middle" fill="#1a1a1a" >Cluster 6 N=782</text>
<g transform="translate(32.4,188) rotate(-90)">
<text x="0.00" y="0.00" font-size="14.55" text-anchor="middle" fill="#1a1a1a" >Standardized mean expresion</text>
</g>
<text x="1.50" y="412.50" font-size="18" text-anchor="start" fill="#1a1a1a" >B</text>
<line x1="456.80" y1="415.10" x2="460.00" y2="415.10" stroke="#000" stroke-width="1.3" />
<text x="453.60" y="420.62" font-size="14.45" text-anchor="end" fill="#1a1a1a" >Interleukin−10 signaling</text>
<line x1="456.80" y1="432.78" x2="460.00" y2="432.78" stroke="#000" stroke-width="1.3" />
<text x="453.60" y="438.30" font-size="14.45" text-anchor="end" fill="#1a1a1a" >Nuclear Receptor transcription pathway</text>
<line x1="456.80" y1="450.45" x2="460.00" y2="450.45" stroke="#000" stroke-width="1.3" />
<text x="453.60" y="455.97" font-size="14.45" text-anchor="end" fill="#1a1a1a" >rRNA modification in the nucleus and cytosol</text>
<line x1="456.80" y1="468.13" x2="460.00" y2="468.13" stroke="#000" stroke-width="1.3" />
<text x="453.60" y="473.65" font-size="14.45" text-anchor="end" fill="#1a1a1a" >Signaling by Interleukins</text>
<line x1="456.80" y1="485.81" x2="460.00" y2="485.81" stroke="#000" stroke-width="1.3" />
<text x="453.60" y="491.33" font-size="14.45" text-anchor="end" fill="#1a1a1a" >rRNA processing in the nucleus and cytosol</text>
<line x1="456.80" y1="503.49" x2="460.00" y2="503.49" stroke="#000" stroke-width="1.3" />
<text x="453.60" y="509.00" font-size="14.45" text-anchor="end" fill="#1a1a1a" >rRNA processing</text>
<line x1="456.80" y1="521.16" x2="460.00" y2="521.16" stroke="#000" stroke-width="1.3" />
<text x="453.60" y="526.68" font-size="14.45" text-anchor="end" fill="#1a1a1a" >Major pathway of rRNA processing in the nucleolus and cytosol</text>
<line x1="456.80" y1="538.84" x2="460.00" y2="538.84" stroke="#000" stroke-width="1.3" />
<text x="453.60" y="544.36" font-size="14.45" text-anchor="end" fill="#1a1a1a" >TNFSF members mediating non−canonical NF−kB pathway</text>
<line x1="456.80" y1="556.52" x2="460.00" y2="556.52" stroke="#000" stroke-width="1.3" />
<text x="453.60" y="562.04" font-size="14.45" text-anchor="end" fill="#1a1a1a" >tRNA modification in the nucleus and cytosol</text>
<line x1="456.80" y1="574.19" x2="460.00" y2="574.19" stroke="#000" stroke-width="1.3" />
<text x="453.60" y="579.71" font-size="14.45" text-anchor="end" fill="#1a1a1a" >Interleukin−4 and Interleukin−13 signaling</text>
<line x1="456.80" y1="591.87" x2="460.00" y2="591.87" stroke="#000" stroke-width="1.3" />
<text x="453.60" y="597.39" font-size="14.45" text-anchor="end" fill="#1a1a1a" >TNFs bind their physiological receptors</text>
<line x1="456.80" y1="609.55" x2="460.00" y2="609.55" stroke="#000" stroke-width="1.3" />
<text x="453.60" y="615.07" font-size="14.45" text-anchor="end" fill="#1a1a1a" >TNFR2 non−canonical NF−kB pathway</text>
<line x1="456.80" y1="627.22" x2="460.00" y2="627.22" stroke="#000" stroke-width="1.3" />
<text x="453.60" y="632.74" font-size="14.45" text-anchor="end" fill="#1a1a1a" >Mitochondrial translation elongation</text>
<line x1="456.80" y1="644.90" x2="460.00" y2="644.90" stroke="#000" stroke-width="1.3" />
<text x="453.60" y="650.42" font-size="14.45" text-anchor="end" fill="#1a1a1a" >Mitochondrial translation</text>
<line x1="456.80" y1="662.58" x2="460.00" y2="662.58" stroke="#000" stroke-width="1.3" />
<text x="453.60" y="668.10" font-size="14.45" text-anchor="end" fill="#1a1a1a" >Mitochondrial translation initiation</text>
<line x1="456.80" y1="680.25" x2="460.00" y2="680.25" stroke="#000" stroke-width="1.3" />
<text x="453.60" y="685.77" font-size="14.45" text-anchor="end" fill="#1a1a1a" >Mitochondrial translation termination</text>
<line x1="456.80" y1="697.93" x2="460.00" y2="697.93" stroke="#000" stroke-width="1.3" />
<text x="453.60" y="703.45" font-size="14.45" text-anchor="end" fill="#1a1a1a" >Translation</text>
<line x1="456.80" y1="715.61" x2="460.00" y2="715.61" stroke="#000" stroke-width="1.3" />
<text x="453.60" y="721.13" font-size="14.45" text-anchor="end" fill="#1a1a1a" >Mitochondrial protein import</text>
<line x1="456.80" y1="733.29" x2="460.00" y2="733.29" stroke="#000" stroke-width="1.3" />
<text x="453.60" y="738.81" font-size="14.45" text-anchor="end" fill="#1a1a1a" >TP53 Regulates Transcription of Caspase Activators and Caspases</text>
<line x1="460.00" y1="407.00" x2="460.00" y2="751.10" stroke="#000" stroke-width="1.5" />
<line x1="459.30" y1="750.40" x2="671.40" y2="750.40" stroke="#000" stroke-width="1.5" />
<line x1="490.60" y1="750.40" x2="490.60" y2="754.20" stroke="#000" stroke-width="1.3" />
<line x1="541.00" y1="750.40" x2="541.00" y2="754.20" stroke="#000" stroke-width="1.3" />
<line x1="591.30" y1="750.40" x2="591.30" y2="754.20" stroke="#000" stroke-width="1.3" />
<line x1="641.70" y1="750.40" x2="641.70" y2="754.20" stroke="#000" stroke-width="1.3" />
<circle cx="490.60" cy="415.10" r="9.60" fill="#d6d4d6"/>
<circle cx="490.60" cy="432.78" r="9.60" fill="#d6d4d6"/>
<circle cx="541.00" cy="415.10" r="3.90" fill="#d5d3d5"/>
<circle cx="541.00" cy="450.45" r="6.00" fill="#ec6646"/>
<circle cx="541.00" cy="468.13" r="9.20" fill="#f6704e"/>
<circle cx="541.00" cy="485.81" r="7.10" fill="#f68a6c"/>
<circle cx="541.00" cy="503.49" r="7.10" fill="#f68a6c"/>
<circle cx="541.00" cy="521.16" r="7.10" fill="#f78b6e"/>
<circle cx="541.00" cy="538.84" r="2.50" fill="#dcc6c4"/>
<circle cx="541.00" cy="556.52" r="4.00" fill="#dcc7c5"/>
<circle cx="541.00" cy="574.19" r="5.10" fill="#ddc8c6"/>
<circle cx="541.00" cy="591.87" r="3.10" fill="#ddc8c6"/>
<circle cx="541.00" cy="609.55" r="5.00" fill="#ddc8c6"/>
<circle cx="591.30" cy="450.45" r="7.00" fill="#e04a28"/>
<circle cx="591.30" cy="485.81" r="8.60" fill="#e13e1e"/>
<circle cx="591.30" cy="503.49" r="8.90" fill="#d92e14"/>
<circle cx="591.30" cy="521.16" r="8.10" fill="#ef6a4a"/>
<circle cx="591.30" cy="627.22" r="6.80" fill="#f47c5a"/>
<circle cx="591.30" cy="644.90" r="6.80" fill="#f57f5e"/>
<circle cx="591.30" cy="662.58" r="6.70" fill="#f5825f"/>
<circle cx="591.30" cy="680.25" r="6.60" fill="#f58260"/>
<circle cx="591.30" cy="697.93" r="8.50" fill="#f58563"/>
<circle cx="591.30" cy="715.61" r="6.00" fill="#f4a08a"/>
<circle cx="641.70" cy="733.29" r="4.00" fill="#e2b9b5"/>
<g transform="translate(485.70,756.90) rotate(-45)">
<text x="0.00" y="0.00" font-size="14.3" text-anchor="end" fill="#1a1a1a" dominant-baseline="hanging">Cluster 2</text>
<text x="-11.80" y="16.50" font-size="14.3" text-anchor="end" fill="#1a1a1a" dominant-baseline="hanging">(23)</text>
</g>
<g transform="translate(536.10,756.90) rotate(-45)">
<text x="0.00" y="0.00" font-size="14.3" text-anchor="end" fill="#1a1a1a" dominant-baseline="hanging">Cluster 3</text>
<text x="-11.80" y="16.50" font-size="14.3" text-anchor="end" fill="#1a1a1a" dominant-baseline="hanging">(464)</text>
</g>
<g transform="translate(586.40,756.90) rotate(-45)">
<text x="0.00" y="0.00" font-size="14.3" text-anchor="end" fill="#1a1a1a" dominant-baseline="hanging">Cluster 4</text>
<text x="-11.80" y="16.50" font-size="14.3" text-anchor="end" fill="#1a1a1a" dominant-baseline="hanging">(299)</text>
</g>
<g transform="translate(636.80,756.90) rotate(-45)">
<text x="0.00" y="0.00" font-size="14.3" text-anchor="end" fill="#1a1a1a" dominant-baseline="hanging">Cluster 6</text>
<text x="-11.80" y="16.50" font-size="14.3" text-anchor="end" fill="#1a1a1a" dominant-baseline="hanging">(322)</text>
</g>
<defs><linearGradient id="gB" x1="0" y1="0" x2="0" y2="1"><stop offset="0" stop-color="#db2a10"/><stop offset="0.25" stop-color="#ec5535"/><stop offset="0.45" stop-color="#f47f5e"/><stop offset="0.62" stop-color="#f8a087"/><stop offset="0.8" stop-color="#eac3b9"/><stop offset="1" stop-color="#d9d7d9"/></linearGradient><linearGradient id="gC" x1="0" y1="0" x2="0" y2="1"><stop offset="0" stop-color="#db2a10"/><stop offset="0.25" stop-color="#ec5535"/><stop offset="0.45" stop-color="#f47f5e"/><stop offset="0.62" stop-color="#f8a087"/><stop offset="0.8" stop-color="#eac3b9"/><stop offset="1" stop-color="#d9d7d9"/></linearGradient></defs>
<text x="708.10" y="424.50" font-size="14.3" text-anchor="middle" fill="#1a1a1a" >−log10</text>
<text x="708.10" y="440.60" font-size="14.3" text-anchor="middle" fill="#1a1a1a" >(p−adjust)</text>
<rect x="678.4" y="449.9" width="22.6" height="112.9" fill="url(#gB)"/>
<line x1="678.40" y1="484.60" x2="683.00" y2="484.60" stroke="#ffffff" stroke-width="0.9" stroke-opacity="0.8"/>
<line x1="696.40" y1="484.60" x2="701.00" y2="484.60" stroke="#ffffff" stroke-width="0.9" stroke-opacity="0.8"/>
<text x="709.50" y="489.72" font-size="14.3" text-anchor="start" fill="#1a1a1a" >10</text>
<line x1="678.40" y1="531.40" x2="683.00" y2="531.40" stroke="#ffffff" stroke-width="0.9" stroke-opacity="0.8"/>
<line x1="696.40" y1="531.40" x2="701.00" y2="531.40" stroke="#ffffff" stroke-width="0.9" stroke-opacity="0.8"/>
<text x="709.50" y="536.52" font-size="14.3" text-anchor="start" fill="#1a1a1a" >5</text>
<text x="679.00" y="603.10" font-size="14.3" text-anchor="start" fill="#1a1a1a" >GeneRatio</text>
<circle cx="689.90" cy="623.30" r="4.80" fill="#000"/>
<text x="708.40" y="628.42" font-size="14.3" text-anchor="start" fill="#1a1a1a" >0.025</text>
<circle cx="689.90" cy="645.92" r="6.30" fill="#000"/>
<text x="708.40" y="651.04" font-size="14.3" text-anchor="start" fill="#1a1a1a" >0.050</text>
<circle cx="689.90" cy="668.54" r="7.50" fill="#000"/>
<text x="708.40" y="673.66" font-size="14.3" text-anchor="start" fill="#1a1a1a" >0.075</text>
<circle cx="689.90" cy="691.16" r="8.50" fill="#000"/>
<text x="708.40" y="696.28" font-size="14.3" text-anchor="start" fill="#1a1a1a" >0.100</text>
<circle cx="689.90" cy="713.78" r="9.50" fill="#000"/>
<text x="708.40" y="718.90" font-size="14.3" text-anchor="start" fill="#1a1a1a" >0.125</text>
<text x="1.00" y="810.60" font-size="18" text-anchor="start" fill="#1a1a1a" >C</text>
<line x1="175.40" y1="824.30" x2="175.40" y2="989.80" stroke="#444" stroke-width="0.9" stroke-dasharray="3 2.2"/>
<line x1="92.60" y1="832.20" x2="96.40" y2="832.20" stroke="#000" stroke-width="1.3" />
<text x="88.90" y="837.32" font-size="14.3" text-anchor="end" fill="#1a1a1a" >Cluster 1</text>
<line x1="92.60" y1="860.60" x2="96.40" y2="860.60" stroke="#000" stroke-width="1.3" />
<text x="88.90" y="865.72" font-size="14.3" text-anchor="end" fill="#1a1a1a" >Cluster 2</text>
<line x1="92.60" y1="888.60" x2="96.40" y2="888.60" stroke="#000" stroke-width="1.3" />
<text x="88.90" y="893.72" font-size="14.3" text-anchor="end" fill="#1a1a1a" >Cluster 3</text>
<line x1="92.60" y1="917.50" x2="96.40" y2="917.50" stroke="#000" stroke-width="1.3" />
<text x="88.90" y="922.62" font-size="14.3" text-anchor="end" fill="#1a1a1a" >Cluster 4</text>
<line x1="92.60" y1="946.10" x2="96.40" y2="946.10" stroke="#000" stroke-width="1.3" />
<text x="88.90" y="951.22" font-size="14.3" text-anchor="end" fill="#1a1a1a" >Cluster 5</text>
<line x1="92.60" y1="974.70" x2="96.40" y2="974.70" stroke="#000" stroke-width="1.3" />
<text x="88.90" y="979.82" font-size="14.3" text-anchor="end" fill="#1a1a1a" >Cluster 6</text>
<line x1="96.40" y1="824.30" x2="96.40" y2="990.50" stroke="#000" stroke-width="1.5" />
<line x1="95.70" y1="989.80" x2="269.40" y2="989.80" stroke="#000" stroke-width="1.5" />
<line x1="98.30" y1="989.80" x2="98.30" y2="993.60" stroke="#000" stroke-width="1.3" />
<text x="98.30" y="1008.30" font-size="14.3" text-anchor="middle" fill="#1a1a1a" >−2</text>
<line x1="136.85" y1="989.80" x2="136.85" y2="993.60" stroke="#000" stroke-width="1.3" />
<text x="136.85" y="1008.30" font-size="14.3" text-anchor="middle" fill="#1a1a1a" >−1</text>
<line x1="175.40" y1="989.80" x2="175.40" y2="993.60" stroke="#000" stroke-width="1.3" />
<text x="175.40" y="1008.30" font-size="14.3" text-anchor="middle" fill="#1a1a1a" >0</text>
<line x1="213.95" y1="989.80" x2="213.95" y2="993.60" stroke="#000" stroke-width="1.3" />
<text x="213.95" y="1008.30" font-size="14.3" text-anchor="middle" fill="#1a1a1a" >1</text>
<line x1="252.50" y1="989.80" x2="252.50" y2="993.60" stroke="#000" stroke-width="1.3" />
<text x="252.50" y="1008.30" font-size="14.3" text-anchor="middle" fill="#1a1a1a" >2</text>
<text x="182.40" y="1024.50" font-size="14.5" text-anchor="middle" fill="#1a1a1a" >log2 Odds ratio</text>
<line x1="224.90" y1="831.90" x2="250.10" y2="831.90" stroke="#000" stroke-width="1.6" />
<line x1="224.90" y1="830.10" x2="224.90" y2="833.70" stroke="#000" stroke-width="1.6" />
<line x1="250.10" y1="830.10" x2="250.10" y2="833.70" stroke="#000" stroke-width="1.6" />
<circle cx="237.60" cy="831.90" r="6.60" fill="#de2d17"/>
<line x1="223.70" y1="860.30" x2="261.10" y2="860.30" stroke="#000" stroke-width="1.6" />
<line x1="223.70" y1="858.50" x2="223.70" y2="862.10" stroke="#000" stroke-width="1.6" />
<line x1="261.10" y1="858.50" x2="261.10" y2="862.10" stroke="#000" stroke-width="1.6" />
<circle cx="242.30" cy="860.30" r="6.60" fill="#f9a48b"/>
<line x1="135.80" y1="888.30" x2="156.70" y2="888.30" stroke="#000" stroke-width="1.6" />
<line x1="135.80" y1="886.50" x2="135.80" y2="890.10" stroke="#000" stroke-width="1.6" />
<line x1="156.70" y1="886.50" x2="156.70" y2="890.10" stroke="#000" stroke-width="1.6" />
<circle cx="146.20" cy="888.30" r="6.60" fill="#e2cecb"/>
<line x1="104.50" y1="917.20" x2="134.90" y2="917.20" stroke="#000" stroke-width="1.6" />
<line x1="104.50" y1="915.40" x2="104.50" y2="919.00" stroke="#000" stroke-width="1.6" />
<line x1="134.90" y1="915.40" x2="134.90" y2="919.00" stroke="#000" stroke-width="1.6" />
<circle cx="120.30" cy="917.20" r="6.60" fill="#f58466"/>
<line x1="209.20" y1="945.80" x2="229.50" y2="945.80" stroke="#000" stroke-width="1.6" />
<line x1="209.20" y1="944.00" x2="209.20" y2="947.60" stroke="#000" stroke-width="1.6" />
<line x1="229.50" y1="944.00" x2="229.50" y2="947.60" stroke="#000" stroke-width="1.6" />
<circle cx="219.10" cy="945.80" r="6.60" fill="#ef6a48"/>
<line x1="135.30" y1="974.40" x2="158.20" y2="974.40" stroke="#000" stroke-width="1.6" />
<line x1="135.30" y1="972.60" x2="135.30" y2="976.20" stroke="#000" stroke-width="1.6" />
<line x1="158.20" y1="972.60" x2="158.20" y2="976.20" stroke="#000" stroke-width="1.6" />
<circle cx="146.80" cy="974.40" r="6.60" fill="#dad8da"/>
<text x="291.70" y="848.70" font-size="14.3" text-anchor="start" fill="#1a1a1a" >−log10(pval)</text>
<rect x="291.4" y="858" width="22.5" height="112.9" fill="url(#gC)"/>
<line x1="291.40" y1="865.50" x2="296.00" y2="865.50" stroke="#ffffff" stroke-width="0.9" stroke-opacity="0.8"/>
<line x1="309.30" y1="865.50" x2="313.90" y2="865.50" stroke="#ffffff" stroke-width="0.9" stroke-opacity="0.8"/>
<text x="321.60" y="870.62" font-size="14.3" text-anchor="start" fill="#1a1a1a" >20</text>
<line x1="291.40" y1="904.20" x2="296.00" y2="904.20" stroke="#ffffff" stroke-width="0.9" stroke-opacity="0.8"/>
<line x1="309.30" y1="904.20" x2="313.90" y2="904.20" stroke="#ffffff" stroke-width="0.9" stroke-opacity="0.8"/>
<text x="321.60" y="909.32" font-size="14.3" text-anchor="start" fill="#1a1a1a" >15</text>
<line x1="291.40" y1="942.40" x2="296.00" y2="942.40" stroke="#ffffff" stroke-width="0.9" stroke-opacity="0.8"/>
<line x1="309.30" y1="942.40" x2="313.90" y2="942.40" stroke="#ffffff" stroke-width="0.9" stroke-opacity="0.8"/>
<text x="321.60" y="947.52" font-size="14.3" text-anchor="start" fill="#1a1a1a" >10</text>
<text x="378.50" y="810.50" font-size="18" text-anchor="start" fill="#1a1a1a" >D</text>
<line x1="425.30" y1="878.10" x2="485.70" y2="878.10" stroke="#ebebeb" stroke-width="0.9" />
<line x1="425.30" y1="928.10" x2="485.70" y2="928.10" stroke="#ebebeb" stroke-width="0.9" />
<line x1="425.30" y1="978.10" x2="485.70" y2="978.10" stroke="#ebebeb" stroke-width="0.9" />
<line x1="441.70" y1="847.00" x2="441.70" y2="990.70" stroke="#ebebeb" stroke-width="0.9" />
<line x1="468.90" y1="847.00" x2="468.90" y2="990.70" stroke="#ebebeb" stroke-width="0.9" />
<rect x="425.80" y="825.4" width="59.40" height="17" fill="#f06868" stroke="#333" stroke-width="1"/>
<text x="455.50" y="839.22" font-size="13.9" text-anchor="middle" fill="#1a1a1a" >IL-2</text>
<line x1="441.70" y1="990.70" x2="441.70" y2="994.50" stroke="#000" stroke-width="1.3" />
<line x1="468.90" y1="990.70" x2="468.90" y2="994.50" stroke="#000" stroke-width="1.3" />
<line x1="492.50" y1="878.10" x2="552.90" y2="878.10" stroke="#ebebeb" stroke-width="0.9" />
<line x1="492.50" y1="928.10" x2="552.90" y2="928.10" stroke="#ebebeb" stroke-width="0.9" />
<line x1="492.50" y1="978.10" x2="552.90" y2="978.10" stroke="#ebebeb" stroke-width="0.9" />
<line x1="508.90" y1="847.00" x2="508.90" y2="990.70" stroke="#ebebeb" stroke-width="0.9" />
<line x1="536.10" y1="847.00" x2="536.10" y2="990.70" stroke="#ebebeb" stroke-width="0.9" />
<rect x="493.00" y="825.4" width="59.40" height="17" fill="#f06868" stroke="#333" stroke-width="1"/>
<text x="522.70" y="839.22" font-size="13.9" text-anchor="middle" fill="#1a1a1a" >IL-21</text>
<line x1="508.90" y1="990.70" x2="508.90" y2="994.50" stroke="#000" stroke-width="1.3" />
<line x1="536.10" y1="990.70" x2="536.10" y2="994.50" stroke="#000" stroke-width="1.3" />
<line x1="559.70" y1="878.10" x2="620.10" y2="878.10" stroke="#ebebeb" stroke-width="0.9" />
<line x1="559.70" y1="928.10" x2="620.10" y2="928.10" stroke="#ebebeb" stroke-width="0.9" />
<line x1="559.70" y1="978.10" x2="620.10" y2="978.10" stroke="#ebebeb" stroke-width="0.9" />
<line x1="576.10" y1="847.00" x2="576.10" y2="990.70" stroke="#ebebeb" stroke-width="0.9" />
<line x1="603.30" y1="847.00" x2="603.30" y2="990.70" stroke="#ebebeb" stroke-width="0.9" />
<rect x="560.20" y="825.4" width="59.40" height="17" fill="#f06868" stroke="#333" stroke-width="1"/>
<text x="589.90" y="839.22" font-size="13.9" text-anchor="middle" fill="#1a1a1a" >IL-4</text>
<line x1="576.10" y1="990.70" x2="576.10" y2="994.50" stroke="#000" stroke-width="1.3" />
<line x1="603.30" y1="990.70" x2="603.30" y2="994.50" stroke="#000" stroke-width="1.3" />
<line x1="626.90" y1="878.10" x2="687.30" y2="878.10" stroke="#ebebeb" stroke-width="0.9" />
<line x1="626.90" y1="928.10" x2="687.30" y2="928.10" stroke="#ebebeb" stroke-width="0.9" />
<line x1="626.90" y1="978.10" x2="687.30" y2="978.10" stroke="#ebebeb" stroke-width="0.9" />
<line x1="643.30" y1="847.00" x2="643.30" y2="990.70" stroke="#ebebeb" stroke-width="0.9" />
<line x1="670.50" y1="847.00" x2="670.50" y2="990.70" stroke="#ebebeb" stroke-width="0.9" />
<rect x="627.40" y="825.4" width="59.40" height="17" fill="#7a777d" stroke="#333" stroke-width="1"/>
<text x="657.10" y="839.22" font-size="13.9" text-anchor="middle" fill="#1a1a1a" >TNF</text>
<line x1="643.30" y1="990.70" x2="643.30" y2="994.50" stroke="#000" stroke-width="1.3" />
<line x1="670.50" y1="990.70" x2="670.50" y2="994.50" stroke="#000" stroke-width="1.3" />
<line x1="694.10" y1="878.10" x2="754.50" y2="878.10" stroke="#ebebeb" stroke-width="0.9" />
<line x1="694.10" y1="928.10" x2="754.50" y2="928.10" stroke="#ebebeb" stroke-width="0.9" />
<line x1="694.10" y1="978.10" x2="754.50" y2="978.10" stroke="#ebebeb" stroke-width="0.9" />
<line x1="710.50" y1="847.00" x2="710.50" y2="990.70" stroke="#ebebeb" stroke-width="0.9" />
<line x1="737.70" y1="847.00" x2="737.70" y2="990.70" stroke="#ebebeb" stroke-width="0.9" />
<rect x="694.60" y="825.4" width="59.40" height="17" fill="#f06868" stroke="#333" stroke-width="1"/>
<text x="724.30" y="839.22" font-size="13.9" text-anchor="middle" fill="#1a1a1a" >CD40LG</text>
<line x1="710.50" y1="990.70" x2="710.50" y2="994.50" stroke="#000" stroke-width="1.3" />
<line x1="737.70" y1="990.70" x2="737.70" y2="994.50" stroke="#000" stroke-width="1.3" />
<line x1="425.80" y1="847.20" x2="425.80" y2="991.40" stroke="#000" stroke-width="1.5" />
<line x1="425.10" y1="990.70" x2="755.00" y2="990.70" stroke="#000" stroke-width="1.5" />
<line x1="422.00" y1="878.10" x2="425.80" y2="878.10" stroke="#000" stroke-width="1.3" />
<text x="419.10" y="883.72" font-size="14.3" text-anchor="end" fill="#1a1a1a" >1</text>
<line x1="422.00" y1="928.10" x2="425.80" y2="928.10" stroke="#000" stroke-width="1.3" />
<text x="419.10" y="933.72" font-size="14.3" text-anchor="end" fill="#1a1a1a" >0</text>
<line x1="422.00" y1="978.10" x2="425.80" y2="978.10" stroke="#000" stroke-width="1.3" />
<text x="419.10" y="983.72" font-size="14.3" text-anchor="end" fill="#1a1a1a" >−1</text>
<g transform="translate(394.90,922.20) rotate(-90)">
<text x="0.00" y="0.00" font-size="14.3" text-anchor="middle" fill="#1a1a1a" >relative protein level</text>
</g>
<text x="453.60" y="859.60" font-size="13.5" text-anchor="middle" fill="#333" >***</text>
<text x="518.50" y="859.60" font-size="13.5" text-anchor="middle" fill="#333" >**</text>
<text x="584.10" y="859.60" font-size="13.5" text-anchor="middle" fill="#333" >*</text>
<text x="656.90" y="859.60" font-size="13.5" text-anchor="middle" fill="#333" >****</text>
<text x="718.30" y="859.60" font-size="13.5" text-anchor="middle" fill="#333" >*</text>
<circle cx="436.10" cy="973.40" r="2.70" fill="#000"/>
<circle cx="446.50" cy="973.40" r="2.70" fill="#000"/>
<circle cx="441.30" cy="973.40" r="2.70" fill="#e0301e"/>
<circle cx="463.40" cy="882.90" r="2.70" fill="#000"/>
<circle cx="474.20" cy="882.90" r="2.70" fill="#000"/>
<circle cx="468.80" cy="882.90" r="2.70" fill="#e0301e"/>
<circle cx="503.10" cy="973.40" r="2.70" fill="#000"/>
<circle cx="513.90" cy="973.40" r="2.70" fill="#000"/>
<circle cx="508.50" cy="973.40" r="2.70" fill="#e0301e"/>
<circle cx="535.90" cy="873.60" r="2.70" fill="#000"/>
<circle cx="535.90" cy="879.90" r="2.70" fill="#000"/>
<circle cx="535.90" cy="894.70" r="2.70" fill="#000"/>
<line x1="535.90" y1="873.60" x2="535.90" y2="894.70" stroke="#e0301e" stroke-width="1.6" />
<circle cx="535.90" cy="882.50" r="2.70" fill="#e0301e"/>
<circle cx="575.90" cy="963.50" r="2.70" fill="#000"/>
<circle cx="575.90" cy="979.50" r="2.70" fill="#000"/>
<line x1="575.90" y1="963.50" x2="575.90" y2="979.50" stroke="#e0301e" stroke-width="1.6" />
<circle cx="575.90" cy="971.40" r="2.70" fill="#e0301e"/>
<circle cx="602.90" cy="859.80" r="2.70" fill="#000"/>
<circle cx="602.90" cy="890.20" r="2.70" fill="#000"/>
<circle cx="602.90" cy="904.00" r="2.70" fill="#000"/>
<line x1="602.90" y1="859.80" x2="602.90" y2="904.00" stroke="#e0301e" stroke-width="1.6" />
<circle cx="602.90" cy="885.20" r="2.70" fill="#e0301e"/>
<circle cx="642.60" cy="967.10" r="2.70" fill="#000"/>
<circle cx="639.90" cy="976.80" r="2.70" fill="#000"/>
<circle cx="645.80" cy="976.80" r="2.70" fill="#000"/>
<line x1="642.60" y1="967.10" x2="642.60" y2="976.80" stroke="#e0301e" stroke-width="1.6" />
<circle cx="642.60" cy="973.40" r="2.70" fill="#e0301e"/>
<circle cx="667.30" cy="880.40" r="2.70" fill="#000"/>
<circle cx="673.40" cy="880.40" r="2.70" fill="#000"/>
<circle cx="670.30" cy="887.00" r="2.70" fill="#000"/>
<line x1="670.30" y1="880.40" x2="670.30" y2="887.00" stroke="#e0301e" stroke-width="1.6" />
<circle cx="670.30" cy="882.50" r="2.70" fill="#e0301e"/>
<circle cx="710.30" cy="956.70" r="2.70" fill="#000"/>
<circle cx="710.30" cy="981.40" r="2.70" fill="#000"/>
<line x1="710.30" y1="956.70" x2="710.30" y2="981.40" stroke="#e0301e" stroke-width="1.6" />
<circle cx="710.30" cy="968.70" r="2.70" fill="#e0301e"/>
<circle cx="737.50" cy="851.80" r="2.70" fill="#000"/>
<circle cx="737.50" cy="893.60" r="2.70" fill="#000"/>
<circle cx="737.50" cy="916.90" r="2.70" fill="#000"/>
<line x1="737.50" y1="851.80" x2="737.50" y2="916.90" stroke="#e0301e" stroke-width="1.6" />
<circle cx="737.50" cy="887.40" r="2.70" fill="#e0301e"/>
<g transform="translate(443.10,995.00) rotate(-45)">
<text x="0.00" y="0.00" font-size="14.3" text-anchor="end" fill="#1a1a1a" dominant-baseline="hanging">0 hrs</text>
</g>
<g transform="translate(470.30,995.00) rotate(-45)">
<text x="0.00" y="0.00" font-size="14.3" text-anchor="end" fill="#1a1a1a" dominant-baseline="hanging">4 hrs</text>
</g>
<g transform="translate(510.30,995.00) rotate(-45)">
<text x="0.00" y="0.00" font-size="14.3" text-anchor="end" fill="#1a1a1a" dominant-baseline="hanging">0 hrs</text>
</g>
<g transform="translate(537.50,995.00) rotate(-45)">
<text x="0.00" y="0.00" font-size="14.3" text-anchor="end" fill="#1a1a1a" dominant-baseline="hanging">4 hrs</text>
</g>
<g transform="translate(577.50,995.00) rotate(-45)">
<text x="0.00" y="0.00" font-size="14.3" text-anchor="end" fill="#1a1a1a" dominant-baseline="hanging">0 hrs</text>
</g>
<g transform="translate(604.70,995.00) rotate(-45)">
<text x="0.00" y="0.00" font-size="14.3" text-anchor="end" fill="#1a1a1a" dominant-baseline="hanging">4 hrs</text>
</g>
<g transform="translate(644.70,995.00) rotate(-45)">
<text x="0.00" y="0.00" font-size="14.3" text-anchor="end" fill="#1a1a1a" dominant-baseline="hanging">0 hrs</text>
</g>
<g transform="translate(671.90,995.00) rotate(-45)">
<text x="0.00" y="0.00" font-size="14.3" text-anchor="end" fill="#1a1a1a" dominant-baseline="hanging">4 hrs</text>
</g>
<g transform="translate(711.90,995.00) rotate(-45)">
<text x="0.00" y="0.00" font-size="14.3" text-anchor="end" fill="#1a1a1a" dominant-baseline="hanging">0 hrs</text>
</g>
<g transform="translate(739.10,995.00) rotate(-45)">
<text x="0.00" y="0.00" font-size="14.3" text-anchor="end" fill="#1a1a1a" dominant-baseline="hanging">4 hrs</text>
</g>
</svg></body></html>
